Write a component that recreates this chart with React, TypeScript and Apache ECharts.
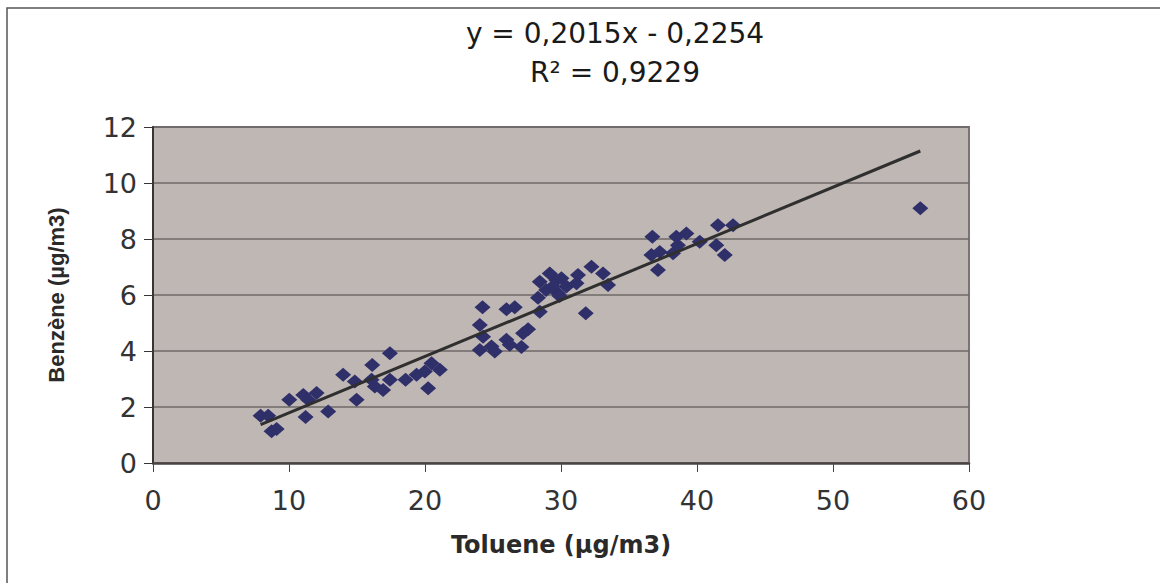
import React, { useEffect, useRef } from "react";
import * as echarts from "echarts";

const toluene: number[] = [
  7.91, 8.47, 8.72, 9.09, 10.02, 11.05, 11.22, 11.41, 12.03, 12.88,
  13.98, 14.84, 14.97, 16.12, 16.07, 16.31, 16.92, 17.42, 17.42, 18.57,
  19.38, 20.23, 20.48, 19.99, 21.09,
  24.23, 24.03, 24.27, 24.03, 24.89, 25.13, 25.99, 26.6, 25.99, 26.23,
  27.09, 27.21, 27.58, 28.44, 28.31, 31.82,
  28.44, 29.17, 29.67, 30.03, 28.91, 29.78, 30.4, 31.25, 31.14, 32.24,
  33.09, 33.46, 29.39, 29.9,
  36.72, 36.65, 37.26, 37.13, 38.24, 38.48, 39.22, 38.6, 40.2, 41.42,
  41.54, 42.65, 42.04,
  56.42,
];
const benzene: number[] = [
  1.69, 1.69, 1.13, 1.21, 2.26, 2.43, 1.64, 2.26, 2.5, 1.84,
  3.15, 2.91, 2.26, 3.5, 2.97, 2.73, 2.61, 3.92, 2.97, 2.97,
  3.15, 2.67, 3.56, 3.27, 3.33,
  5.56, 4.93, 4.51, 4.04, 4.16, 3.98, 5.49, 5.56, 4.4, 4.22,
  4.14, 4.63, 4.78, 5.4, 5.9, 5.35,
  6.47, 6.77, 6.53, 6.6, 6.18, 6.06, 6.3, 6.71, 6.42, 7.01,
  6.77, 6.36, 6.3, 5.96,
  8.08, 7.43, 7.54, 6.89, 7.49, 8.08, 8.2, 7.78, 7.9, 7.78,
  8.49, 8.49, 7.43,
  9.1,
];
const slope = 0.2015;
const intercept = -0.2254;
const equationText = "y = 0,2015x - 0,2254";
const r2Text = "R² = 0,9229";
const xTitle = "Toluene (µg/m3)";
const yTitle = "Benzène (µg/m3)";

export default function App() {
  const ref = useRef<HTMLDivElement>(null);
  useEffect(() => {
    if (!ref.current) return;
    const chart = echarts.init(ref.current, undefined, { renderer: "svg" });
    const points = toluene.map((x, i) => [x, benzene[i]]);
    const xMin = Math.min(...toluene);
    const xMax = Math.max(...toluene);
    const trend = [
      [xMin, slope * xMin + intercept],
      [xMax, slope * xMax + intercept],
    ];
    chart.setOption({
      animation: false,
      backgroundColor: "#ffffff",
      grid: {
        left: 153,
        right: 191,
        top: 127,
        bottom: 120,
        show: true,
        backgroundColor: "#bfb7b4",
        borderColor: "#7a7474",
        borderWidth: 2,
      },
      graphic: [
        {
          type: "rect",
          shape: { x: 7, y: 8, width: 1300, height: 700 },
          style: { fill: "none", stroke: "#555", lineWidth: 1.5 },
          silent: true,
        },
        {
          type: "text",
          x: 615,
          y: 33,
          style: {
            text: equationText,
            font: "28px 'DejaVu Sans'",
            fill: "#1a1a1a",
            textAlign: "center",
            textVerticalAlign: "middle",
          },
        },
        {
          type: "text",
          x: 615,
          y: 72,
          style: {
            text: r2Text,
            font: "28px 'DejaVu Sans'",
            fill: "#1a1a1a",
            textAlign: "center",
            textVerticalAlign: "middle",
          },
        },
      ],
      xAxis: {
        type: "value",
        min: 0,
        max: 60,
        interval: 10,
        name: xTitle,
        nameLocation: "middle",
        nameGap: 70,
        nameTextStyle: {
          fontFamily: "DejaVu Sans",
          fontWeight: "bold",
          fontSize: 24,
          color: "#2a2a2a",
        },
        axisLine: { show: true, lineStyle: { color: "#4a4444", width: 2.5 } },
        axisTick: { show: true, length: 9, lineStyle: { color: "#4a4444", width: 1 } },
        axisLabel: {
          margin: 24,
          fontFamily: "DejaVu Sans",
          fontSize: 27,
          color: "#333",
        },
        splitLine: { show: false },
      },
      yAxis: {
        type: "value",
        min: 0,
        max: 12,
        interval: 2,
        name: yTitle,
        nameLocation: "middle",
        nameGap: 86,
        nameTextStyle: {
          fontFamily: "Liberation Sans",
          fontWeight: "bold",
          fontSize: 22,
          color: "#2a2a2a",
        },
        axisLine: { show: true, lineStyle: { color: "#3a3434", width: 2 } },
        axisTick: { show: true, length: 9, lineStyle: { color: "#3a3434", width: 1 } },
        axisLabel: {
          margin: 16,
          fontFamily: "DejaVu Sans",
          fontSize: 27,
          color: "#333",
        },
        splitLine: { show: true, lineStyle: { color: "#6e6868", width: 1.5 } },
      },
      series: [
        {
          type: "scatter",
          data: points,
          symbol: "diamond",
          symbolSize: [16, 14],
          itemStyle: { color: "#2f2f6a", opacity: 1 },
          z: 2,
        },
        {
          type: "line",
          data: trend,
          showSymbol: false,
          symbol: "none",
          lineStyle: { color: "#2f2f2f", width: 3 },
          z: 3,
        },
      ],
    });
    return () => chart.dispose();
  }, []);
  return (
    <div
      ref={ref}
      style={{ position: "fixed", left: 0, top: 0, width: 1160, height: 583 }}
    />
  );
}
